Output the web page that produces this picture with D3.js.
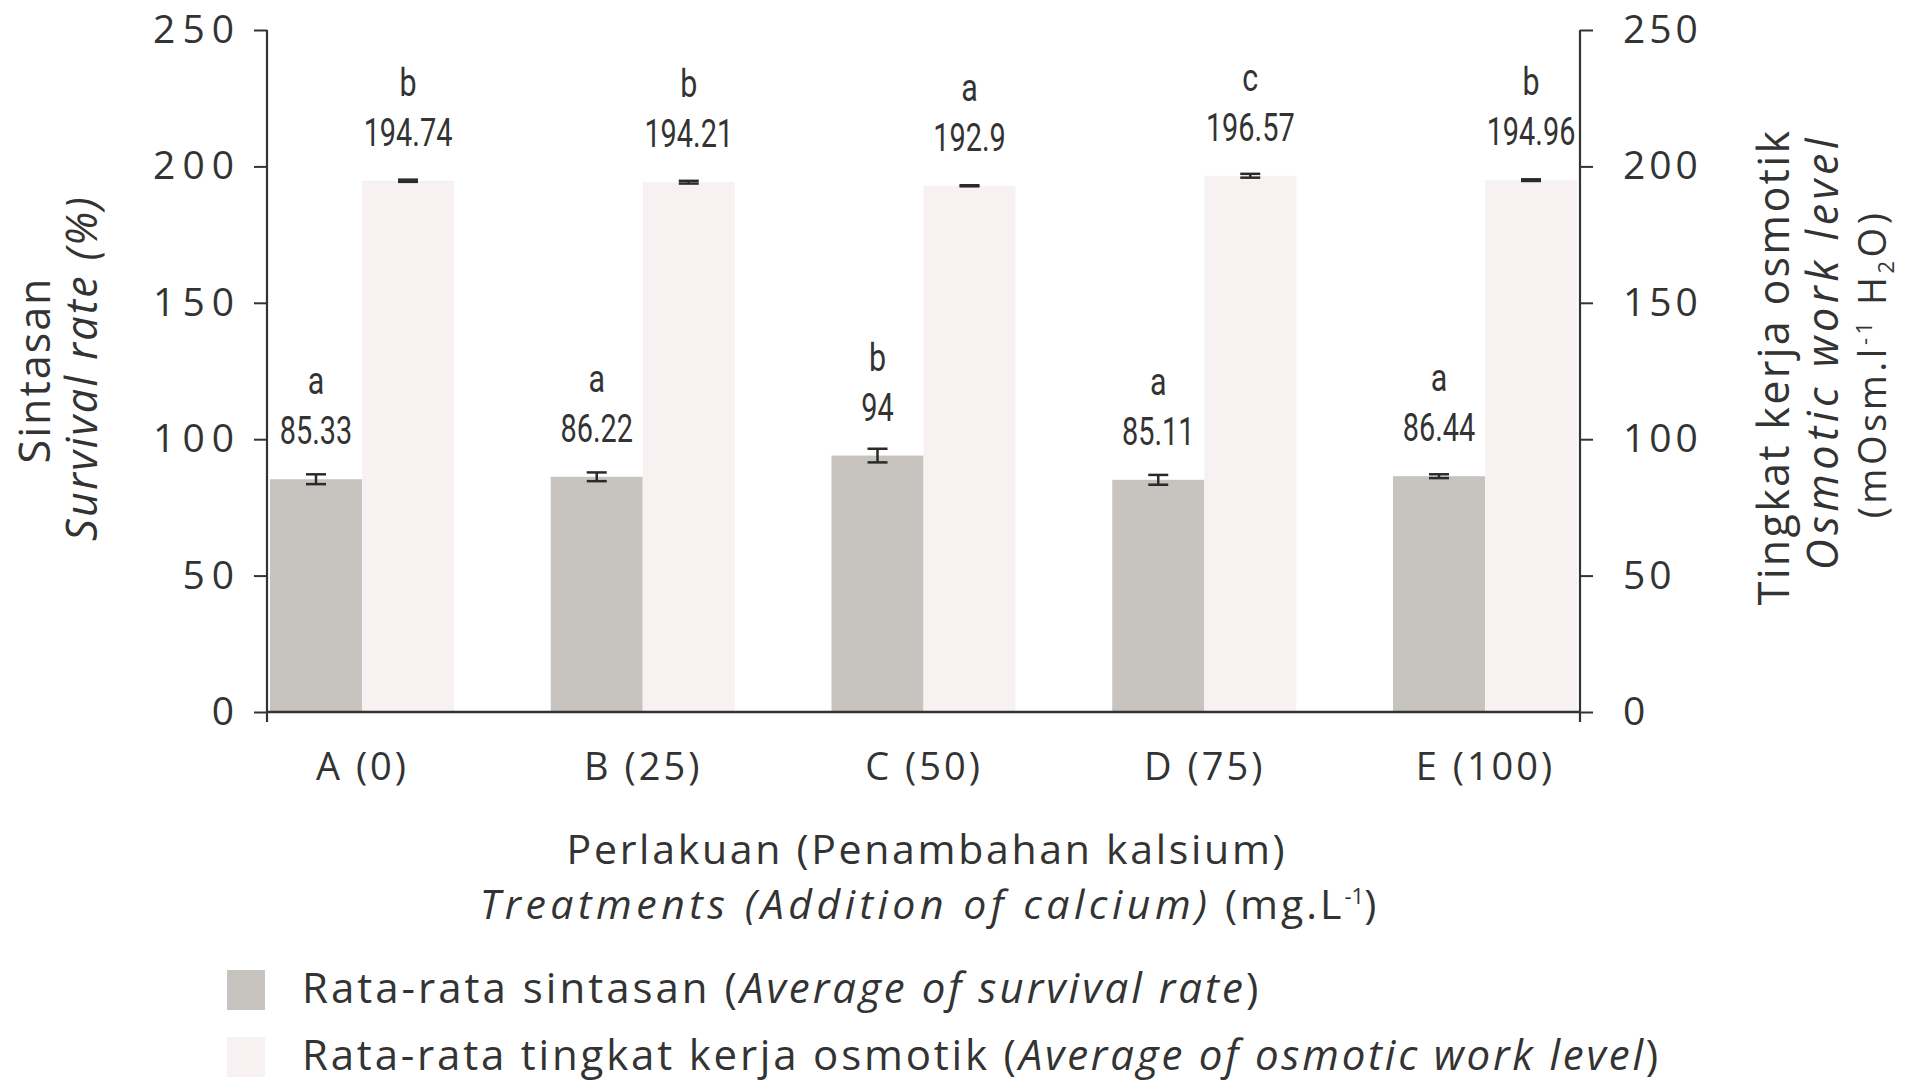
<!DOCTYPE html>
<html>
<head>
<meta charset="utf-8">
<script src="https://cdn.jsdelivr.net/npm/d3@7"></script>
<style>
  html, body { margin: 0; padding: 0; background: #ffffff; }
  svg { display: block; }
  text { fill: #333333; }
</style>
</head>
<body>
<svg id="chart" width="1918" height="1088"></svg>
<script>
// ---------------- data ----------------
const categories   = ["A (0)", "B (25)", "C (50)", "D (75)", "E (100)"];
const survival     = [85.33, 86.22, 94, 85.11, 86.44];
const survivalErr  = [1.8, 1.6, 2.5, 1.8, 0.7];
const survivalSig  = ["a", "a", "b", "a", "a"];
const osmotic      = [194.74, 194.21, 192.9, 196.57, 194.96];
const osmoticErr   = [0.4, 0.5, 0.2, 0.7, 0.3];
const osmoticSig   = ["b", "b", "a", "c", "b"];
const yTicks       = [0, 50, 100, 150, 200, 250];
const seriesNames  = ["Rata-rata sintasan", "Rata-rata tingkat kerja osmotik"];
const seriesNamesEn = ["Average of survival rate", "Average of osmotic work level"];

// ---------------- layout ----------------
const svg = d3.select("#chart");
const FONT = "'Open Sans', 'Noto Sans', sans-serif";
const NARROW = "'Roboto', sans-serif";
const axisLeftX = 267, axisRightX = 1580, yBottom = 712, yTop = 30;
const barW = 92;

const x = d3.scalePoint().domain(categories).range([362, 1485]);
const yL = d3.scaleLinear().domain([0, 250]).range([yBottom, yTop]);
const yR = d3.scaleLinear().domain([0, 250]).range([yBottom, yTop]);

const COL_S = "#c7c4c0", COL_O = "#f7f2f1";

// bars
const gBars = svg.append("g");
gBars.selectAll("rect.s").data(categories).join("rect")
  .attr("x", d => x(d) - barW).attr("width", barW)
  .attr("y", (d, i) => yL(survival[i])).attr("height", (d, i) => yBottom - yL(survival[i]))
  .attr("fill", COL_S);
gBars.selectAll("rect.o").data(categories).join("rect")
  .attr("x", d => x(d)).attr("width", barW)
  .attr("y", (d, i) => yR(osmotic[i])).attr("height", (d, i) => yBottom - yR(osmotic[i]))
  .attr("fill", COL_O);

// error bars
function errBars(vals, errs, scale, off, cap, sw) {
  const g = svg.append("g").attr("stroke", "#2a2a2a").attr("stroke-width", sw).attr("fill", "none");
  categories.forEach((c, i) => {
    const cx = x(c) + off;
    const y1 = scale(vals[i] + errs[i]), y0 = scale(vals[i] - errs[i]);
    g.append("line").attr("x1", cx).attr("x2", cx).attr("y1", y1).attr("y2", y0);
    g.append("line").attr("x1", cx - cap / 2).attr("x2", cx + cap / 2).attr("y1", y1).attr("y2", y1);
    g.append("line").attr("x1", cx - cap / 2).attr("x2", cx + cap / 2).attr("y1", y0).attr("y2", y0);
  });
}
errBars(survival, survivalErr, yL, -barW / 2, 20, 2.5);
errBars(osmotic, osmoticErr, yR, barW / 2, 20, 2.5);

// value + letter labels (condensed look)
function labels(vals, sig, scale, off) {
  const g = svg.append("g").attr("text-anchor", "middle").style("font-family", NARROW)
    .style("font-weight", "400");
  categories.forEach((c, i) => {
    const cx = x(c) + off;
    const by = scale(vals[i]) - 35;
    g.append("text").attr("transform", `translate(${cx},${by}) scale(0.76,1)`)
      .style("font-size", "38px").text(String(vals[i]));
    g.append("text").attr("transform", `translate(${cx},${by - 50}) scale(0.8,1)`)
      .style("font-size", "38px").text(sig[i]);
  });
}
labels(survival, survivalSig, yL, -barW / 2);
labels(osmotic, osmoticSig, yR, barW / 2);

// axes
const axL = svg.append("g").attr("transform", `translate(${axisLeftX},0)`)
  .call(d3.axisLeft(yL).tickValues(yTicks).tickSize(13).tickPadding(20).tickFormat(d3.format("d")));
const axR = svg.append("g").attr("transform", `translate(${axisRightX},0)`)
  .call(d3.axisRight(yR).tickValues(yTicks).tickSize(13).tickPadding(30).tickFormat(d3.format("d")));
[axL, axR].forEach(a => {
  a.select(".domain").attr("stroke", "#333").attr("stroke-width", 2.2)
    .attr("d", `M0,${yTop}V${yBottom + 10}`);
  a.selectAll(".tick line").attr("stroke", "#333").attr("stroke-width", 2);
  a.selectAll(".tick text").style("font-family", FONT).style("font-size", "39px")
    .attr("fill", "#333");
});
axL.selectAll(".tick text").style("letter-spacing", "7px").attr("dx", "7px");
axR.selectAll(".tick text").style("letter-spacing", "4px").attr("text-anchor", "start");

const axB = svg.append("g").attr("transform", `translate(0,${yBottom})`)
  .call(d3.axisBottom(x).tickSize(0).tickPadding(41));
axB.select(".domain").attr("stroke", "#333").attr("stroke-width", 2.5)
  .attr("d", `M${axisLeftX},0H${axisRightX}`);
axB.selectAll(".tick text").style("font-family", FONT).style("font-size", "38px")
  .style("letter-spacing", "3px").attr("fill", "#333").attr("dy", "0.71em");

// axis titles
const tL = svg.append("g").style("font-family", FONT).attr("text-anchor", "middle");
tL.append("text").attr("transform", "translate(50,370) rotate(-90)")
  .style("font-size", "43px").style("letter-spacing", "2px").text("Sintasan");
tL.append("text").attr("transform", "translate(97,368) rotate(-90)")
  .style("font-size", "43px").style("font-style", "italic").style("letter-spacing", "2.3px")
  .text("Survival rate (%)");

const tR = svg.append("g").style("font-family", FONT).attr("text-anchor", "middle");
tR.append("text").attr("transform", "translate(1789,367) rotate(-90)")
  .style("font-size", "43px").style("letter-spacing", "2.3px").text("Tingkat kerja osmotik");
tR.append("text").attr("transform", "translate(1838,352) rotate(-90)")
  .style("font-size", "43px").style("font-style", "italic").style("letter-spacing", "4.5px")
  .text("Osmotic work level");
const t3 = tR.append("text").attr("transform", "translate(1886,364) rotate(-90)")
  .style("font-size", "38px").style("letter-spacing", "3.5px");
t3.append("tspan").text("(mOsm.l");
t3.append("tspan").attr("dy", "-14px").style("font-size", "22px").text("-1");
t3.append("tspan").attr("dy", "14px").text(" H");
t3.append("tspan").attr("dy", "8px").style("font-size", "22px").text("2");
t3.append("tspan").attr("dy", "-8px").text("O)");

const tB = svg.append("g").style("font-family", FONT).attr("text-anchor", "middle");
tB.append("text").attr("x", 927).attr("y", 864).style("font-size", "41px")
  .style("letter-spacing", "2.7px").text("Perlakuan (Penambahan kalsium)");
const tb2 = tB.append("text").attr("x", 928).attr("y", 919).style("font-size", "41px");
tb2.append("tspan").style("font-style", "italic").style("letter-spacing", "4.5px")
  .text("Treatments (Addition of calcium)");
tb2.append("tspan").style("letter-spacing", "3px").text(" (mg.L");
tb2.append("tspan").attr("dy", "-15px").style("font-size", "22px").text("-1");
tb2.append("tspan").attr("dy", "15px").text(")");

// legend
const leg = svg.append("g").style("font-family", FONT);
const legY = [970, 1037];
const legLS = ["3px", "2.8px"];
[COL_S, COL_O].forEach((col, i) => {
  leg.append("rect").attr("x", 227).attr("y", legY[i]).attr("width", 38).attr("height", 40)
    .attr("fill", col);
  const t = leg.append("text").attr("x", 302).attr("y", legY[i] + 33)
    .style("font-size", "42px").style("letter-spacing", legLS[i]);
  t.append("tspan").text(seriesNames[i] + " (");
  t.append("tspan").style("font-style", "italic").text(seriesNamesEn[i]);
  t.append("tspan").text(")");
});
</script>
</body>
</html>
